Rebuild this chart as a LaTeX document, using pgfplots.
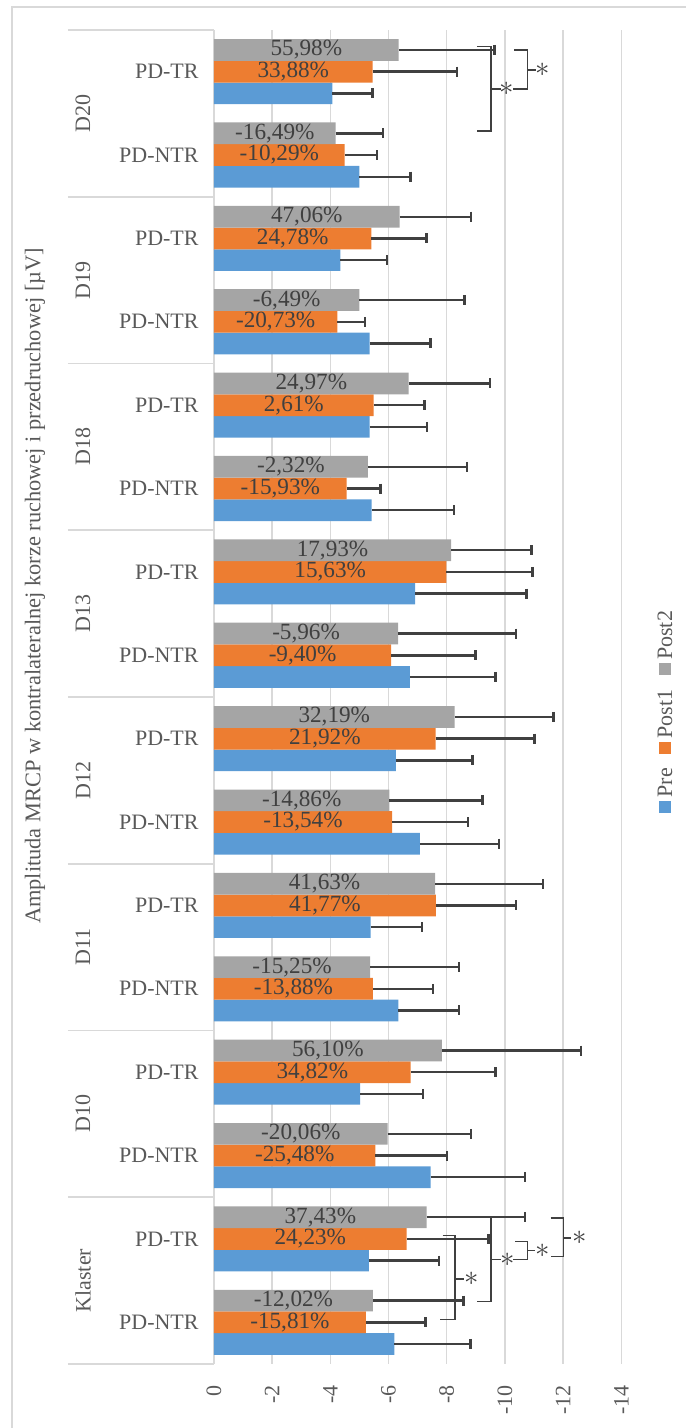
\documentclass[border=0pt]{standalone}
\usepackage{pgfplots}
\pgfplotsset{compat=1.18}
\usepackage{pgfplotstable}
\usepackage{fontspec}
\setmainfont{Liberation Serif}
\definecolor{pre}{HTML}{5B9BD5}
\definecolor{post1}{HTML}{ED7D31}
\definecolor{post2}{HTML}{A5A5A5}
\definecolor{ebar}{HTML}{404040}
\definecolor{txt}{HTML}{595959}
\definecolor{gridc}{HTML}{D9D9D9}
\newcommand\f{\fontsize{11}{13}\selectfont}
\newcommand\fl{\fontsize{11.6}{13}\selectfont}
\pgfplotstableread{
y pre epre p1 ep1 p2 ep2 l1 l2
0 -6.20 2.61 -5.22 2.05 -5.46 3.12 -15,81\% -12,02\%
1 -5.32 2.41 -6.62 2.82 -7.31 3.38 24,23\% 37,43\%
2 -7.45 3.24 -5.55 2.46 -5.97 2.87 -25,48\% -20,06\%
3 -5.02 2.16 -6.76 2.92 -7.83 4.79 34,82\% 56,10\%
4 -6.34 2.09 -5.46 2.07 -5.37 3.06 -13,88\% -15,25\%
5 -5.38 1.77 -7.63 2.76 -7.60 3.70 41,77\% 41,63\%
6 -7.08 2.71 -6.12 2.61 -6.03 3.20 -13,54\% -14,86\%
7 -6.25 2.64 -7.62 3.40 -8.27 3.40 21,92\% 32,19\%
8 -6.73 2.94 -6.09 2.90 -6.33 4.06 -9,40\% -5,96\%
9 -6.91 3.83 -7.99 2.96 -8.15 2.77 15,63\% 17,93\%
10 -5.42 2.82 -4.56 1.16 -5.29 3.41 -15,93\% -2,32\%
11 -5.35 1.98 -5.49 1.74 -6.69 2.80 2,61\% 24,97\%
12 -5.35 2.09 -4.24 0.96 -5.00 3.61 -20,73\% -6,49\%
13 -4.34 1.61 -5.41 1.89 -6.38 2.46 24,78\% 47,06\%
14 -5.00 1.75 -4.49 1.11 -4.18 1.62 -10,29\% -16,49\%
15 -4.07 1.38 -5.45 2.91 -6.35 3.29 33,88\% 55,98\%
}\data
\tikzset{st/.style={inner sep=0pt, text=ebar, font=\fontsize{15}{15}\selectfont},
  br/.style={draw=ebar, line width=0.7pt}}
\pgfplotsset{eb/.style={draw=none, mark=none, forget plot,
  error bars/.cd, x dir=minus, x explicit, error mark=|,
  error bar style={ebar, line width=1.2pt},
  error mark options={ebar, line width=1.2pt, mark size=2.5pt}}}
\begin{document}
\begin{tikzpicture}
\path[use as bounding box] (0,0) rectangle (343pt,714pt);
\draw[gridc, line width=0.8pt] (6pt,0) -- (6pt,710.5pt) -- (343pt,710.5pt);
\begin{axis}[
  at={(107pt,32pt)}, anchor=south west,
  scale only axis, width=203.65pt, height=667pt,
  xmin=-14, xmax=0, x dir=reverse,
  ymin=-0.5, ymax=15.5,
  xtick={-14,-12,-10,-8,-6,-4,-2,0},
  ytick={0,...,15},
  yticklabels={PD-NTR,PD-TR,PD-NTR,PD-TR,PD-NTR,PD-TR,PD-NTR,PD-TR,PD-NTR,PD-TR,PD-NTR,PD-TR,PD-NTR,PD-TR,PD-NTR,PD-TR},
  major tick length=0pt,
  xmajorgrids, grid style={gridc, line width=0.7pt},
  axis line style={draw=none},
  tick label style={font=\f, text=txt},
  xticklabel style={rotate=90, anchor=east},
  xticklabel shift=7pt,
  yticklabel style={anchor=east, inner sep=0pt},
  yticklabel shift=7.5pt,
  /pgf/number format/assume math mode=true,
  clip=false,
]
\addplot[xbar, bar width=10.85pt, bar shift=-10.85pt, fill=pre, draw=none]
  table[x=pre, y=y]{\data};
\addplot[xbar, bar width=10.85pt, bar shift=0pt, fill=post1, draw=none]
  table[x=p1, y=y]{\data};
\addplot[xbar, bar width=10.85pt, bar shift=10.85pt, fill=post2, draw=none]
  table[x=p2, y=y]{\data};
% error bars
\addplot[eb] table[x=pre, y expr=\thisrow{y}-0.26, x error=epre]{\data};
\addplot[eb] table[x=p1, y=y, x error=ep1]{\data};
\addplot[eb] table[x=p2, y expr=\thisrow{y}+0.26, x error=ep2]{\data};
% data labels
\addplot[draw=none, mark=none, nodes near coords, point meta=explicit symbolic,
  every node near coord/.append style={anchor=center, font=\fl, text=ebar, inner sep=0pt}]
  table[x expr=\thisrow{p1}/2, y=y, meta=l1]{\data};
\addplot[draw=none, mark=none, nodes near coords, point meta=explicit symbolic,
  every node near coord/.append style={anchor=center, font=\fl, text=ebar, inner sep=0pt}]
  table[x expr=\thisrow{p2}/2, y expr=\thisrow{y}+0.26, meta=l2]{\data};
% category group separators and labels
\foreach \b in {-0.5,1.5,3.5,5.5,7.5,9.5,11.5,13.5,15.5}{
  \edef\tmp{\noexpand\draw[gridc, line width=0.8pt] ([xshift=-73pt]axis cs:0,\b) -- (axis cs:0,\b);}\tmp
}
\node[rotate=90, font=\f, text=txt] at ([xshift=-65.5pt]axis cs:0,0.5) {Klaster};
\node[rotate=90, font=\f, text=txt] at ([xshift=-65.5pt]axis cs:0,2.5) {D10};
\node[rotate=90, font=\f, text=txt] at ([xshift=-65.5pt]axis cs:0,4.5) {D11};
\node[rotate=90, font=\f, text=txt] at ([xshift=-65.5pt]axis cs:0,6.5) {D12};
\node[rotate=90, font=\f, text=txt] at ([xshift=-65.5pt]axis cs:0,8.5) {D13};
\node[rotate=90, font=\f, text=txt] at ([xshift=-65.5pt]axis cs:0,10.5) {D18};
\node[rotate=90, font=\f, text=txt] at ([xshift=-65.5pt]axis cs:0,12.5) {D19};
\node[rotate=90, font=\f, text=txt] at ([xshift=-65.5pt]axis cs:0,14.5) {D20};
% significance brackets D20
\draw[br] (axis cs:-9.04,15.30) -- (axis cs:-9.52,15.30) -- (axis cs:-9.52,14.29) -- (axis cs:-9.04,14.29);
\draw[br] (axis cs:-9.52,14.79) -- (axis cs:-9.86,14.79);
\node[st] at (axis cs:-10.06,14.79) {$\ast$};
\draw[br] (axis cs:-10.32,15.26) -- (axis cs:-10.77,15.26) -- (axis cs:-10.77,14.79) -- (axis cs:-10.27,14.79);
\draw[br] (axis cs:-10.77,15.02) -- (axis cs:-11.07,15.02);
\node[st] at (axis cs:-11.30,15.02) {$\ast$};
% significance brackets Klaster
\draw[br] (axis cs:-7.86,1.043) -- (axis cs:-8.28,1.043) -- (axis cs:-8.28,0.032) -- (axis cs:-7.76,0.032);
\draw[br] (axis cs:-8.28,0.52) -- (axis cs:-8.58,0.52);
\node[st] at (axis cs:-8.86,0.52) {$\ast$};
\draw[br] (axis cs:-9.04,1.271) -- (axis cs:-9.52,1.271) -- (axis cs:-9.52,0.252) -- (axis cs:-9.04,0.252);
\draw[br] (axis cs:-9.52,0.752) -- (axis cs:-9.86,0.752);
\node[st] at (axis cs:-10.09,0.752) {$\ast$};
\draw[br] (axis cs:-10.35,0.971) -- (axis cs:-10.77,0.971) -- (axis cs:-10.77,0.752) -- (axis cs:-10.27,0.752);
\draw[br] (axis cs:-10.77,0.86) -- (axis cs:-11.03,0.86);
\node[st] at (axis cs:-11.30,0.86) {$\ast$};
\draw[br] (axis cs:-11.57,1.252) -- (axis cs:-12.02,1.252) -- (axis cs:-12.02,0.792) -- (axis cs:-11.57,0.792);
\draw[br] (axis cs:-12.02,1.012) -- (axis cs:-12.27,1.012);
\node[st] at (axis cs:-12.58,1.012) {$\ast$};
\end{axis}
\node[rotate=90, font=\fontsize{11.2}{13}\selectfont, text=txt] at (17.5pt,421pt) {Amplituda MRCP w kontralateralnej korze ruchowej i przedruchowej [µV]};
\node[rotate=90, font=\f, text=txt] at (332.5pt,358pt) {{\color{pre}\rule[0.5pt]{6pt}{6pt}}\,Pre\hspace{7pt}{\color{post1}\rule[0.5pt]{6pt}{6pt}}\,Post1\hspace{7pt}{\color{post2}\rule[0.5pt]{6pt}{6pt}}\,Post2};
\end{tikzpicture}
\end{document}
